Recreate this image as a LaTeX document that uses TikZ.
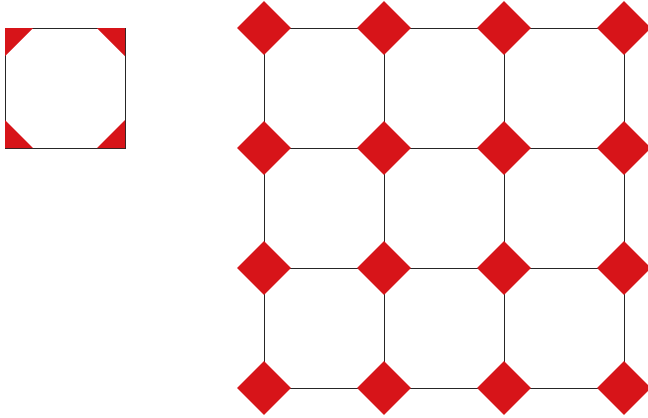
\documentclass[tikz,border=0pt]{standalone}
\usetikzlibrary{shapes.geometric}
\definecolor{tilered}{RGB}{215,20,25}
\tikzset{
  gridline/.style={black!85, line width=0.7pt},
  tilecorner/.style={fill=tilered, draw=none},
  joint/.style={diamond, fill=tilered, draw=none, inner sep=0pt,
    minimum width=54*0.03cm, minimum height=54*0.03cm}
}
\begin{document}
\begin{tikzpicture}[x=0.03cm, y=-0.03cm]
  \useasboundingbox (0,0) rectangle (648,417);
  % --- single tile ---
  \begin{scope}
    \draw[gridline] (5,28) rectangle (125,148);
    \fill[tilecorner] (5,28) -- (33,28) -- (5,56) -- cycle;
    \fill[tilecorner] (125,28) -- (97,28) -- (125,56) -- cycle;
    \fill[tilecorner] (5,148) -- (33,148) -- (5,120) -- cycle;
    \fill[tilecorner] (125,148) -- (97,148) -- (125,120) -- cycle;
  \end{scope}
  % --- tiled floor ---
  \begin{scope}
    \foreach \i in {0,...,3}{
      \foreach \j in {0,...,3}{
        \coordinate (c-\i-\j) at (264+120*\i, 28+120*\j);
      }
    }
    % grid lines
    \foreach \i in {0,...,3}{
      \draw[gridline] (c-\i-0) -- (c-\i-3);
      \draw[gridline] (c-0-\i) -- (c-3-\i);
    }
    % diamonds
    \foreach \i in {0,...,3}{
      \foreach \j in {0,...,3}{
        \node[joint] (d-\i-\j) at (c-\i-\j) {};
      }
    }
  \end{scope}
\end{tikzpicture}
\end{document}
